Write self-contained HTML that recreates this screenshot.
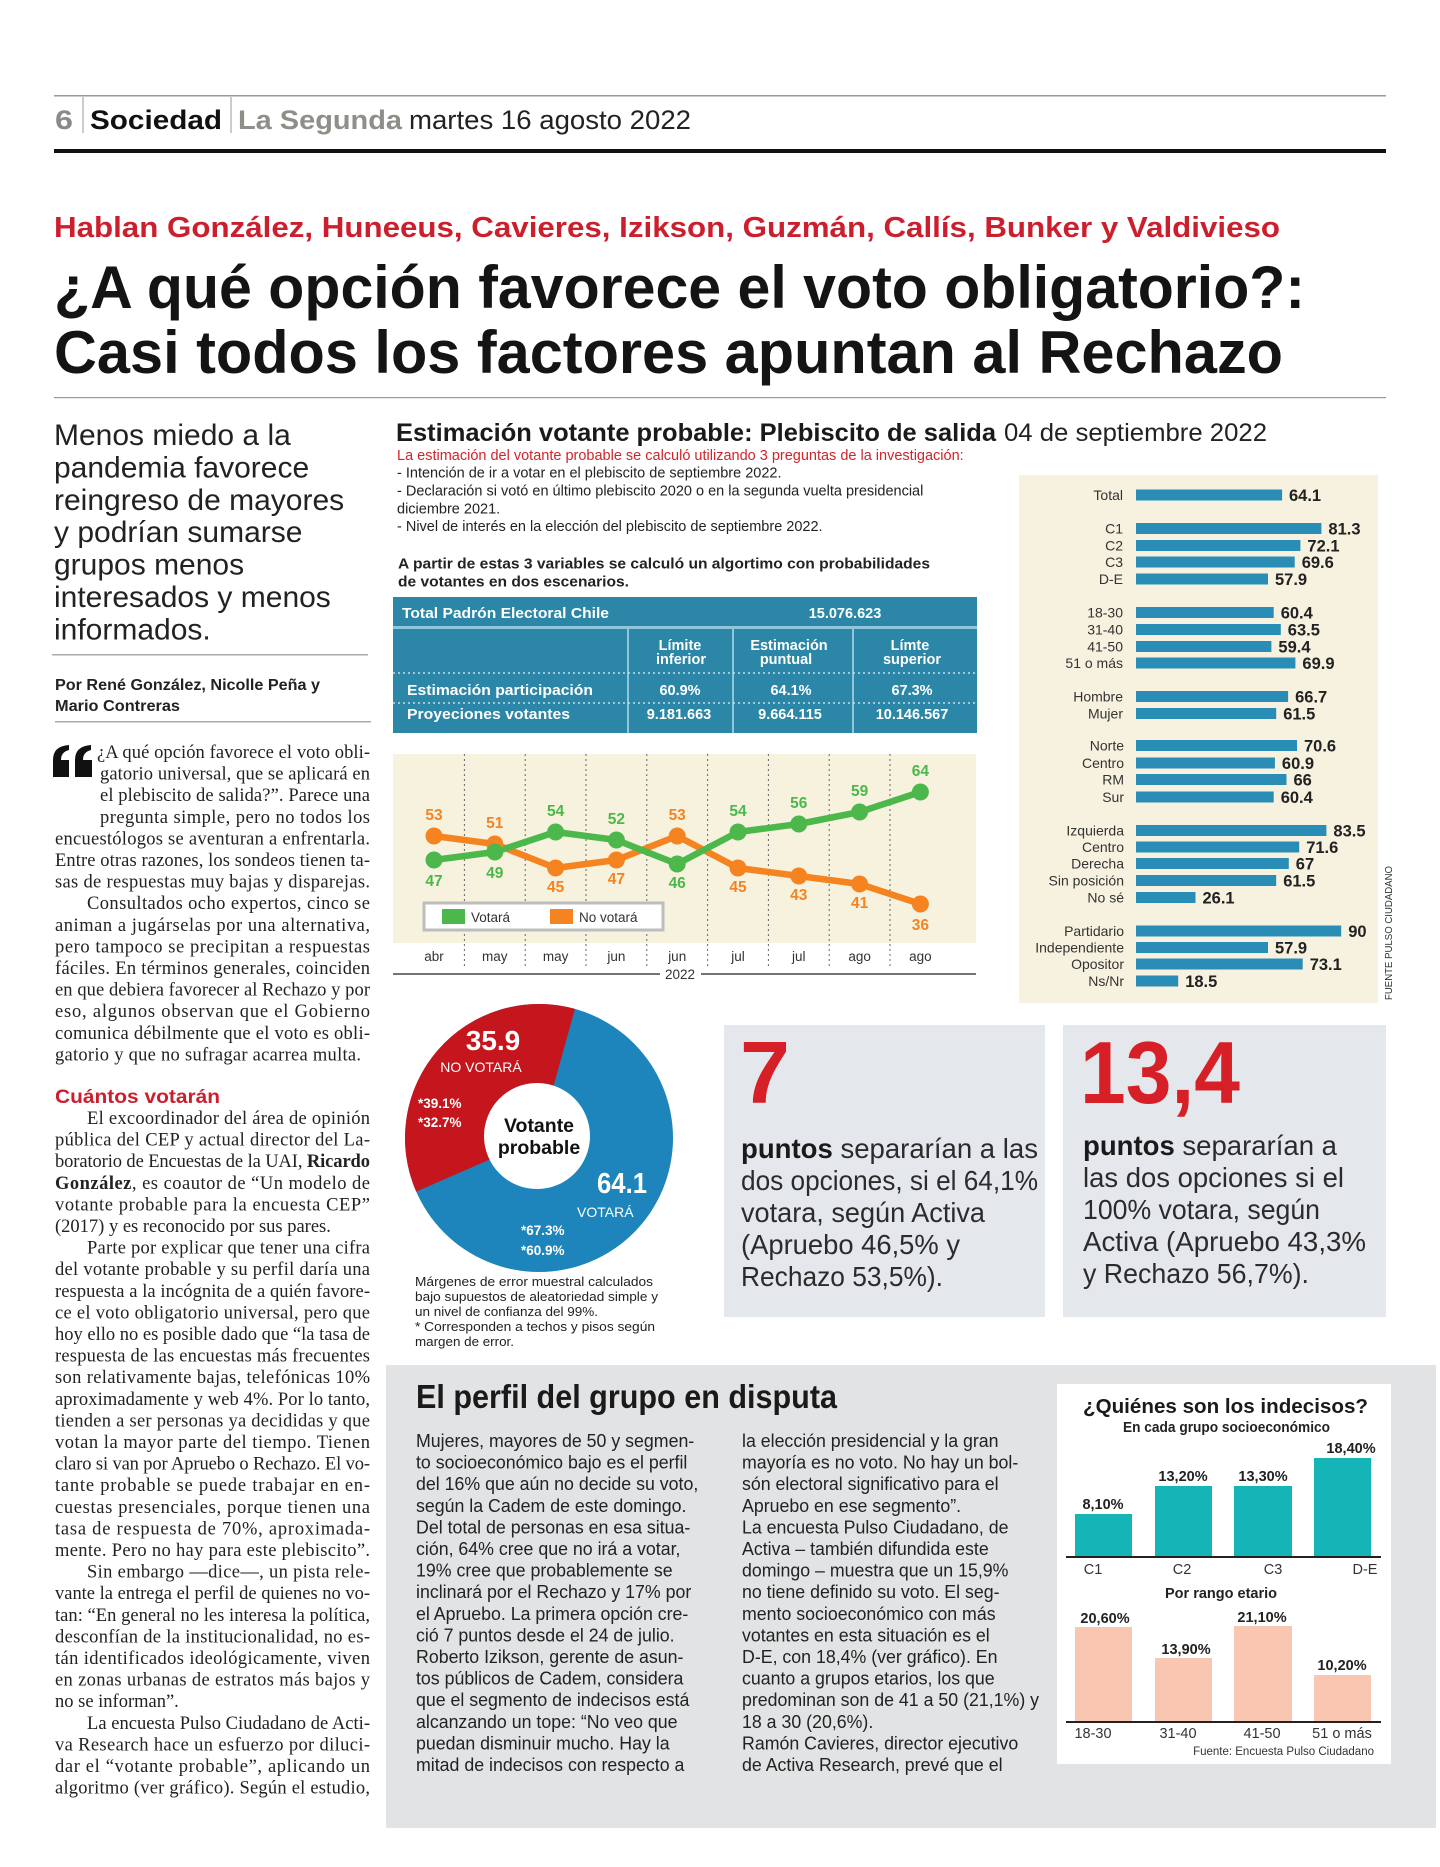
<!DOCTYPE html>
<html><head><meta charset="utf-8"><style>
html,body{margin:0;padding:0;background:#fff}
svg{display:block}
.s{font-family:"Liberation Sans",sans-serif}
.r{font-family:"Liberation Serif",serif}
.b{font-weight:bold}
.bt{font-family:"Liberation Serif",serif;font-size:18.5px;fill:#222}
.bx{font-family:"Liberation Sans",sans-serif;font-size:28px;fill:#2b2b2b}
.bo{font-family:"Liberation Sans",sans-serif;font-size:18.5px;fill:#222}
.lab{font-family:"Liberation Sans",sans-serif;font-size:14px;fill:#333;text-anchor:end}
.val{font-family:"Liberation Sans",sans-serif;font-size:16.5px;font-weight:bold;fill:#222}
.gl{font-family:"Liberation Sans",sans-serif;font-size:15.5px;font-weight:bold;fill:#4cb74a;text-anchor:middle}
.ol{font-family:"Liberation Sans",sans-serif;font-size:15.5px;font-weight:bold;fill:#f5831f;text-anchor:middle}
.mo{font-family:"Liberation Sans",sans-serif;font-size:13.5px;fill:#333;text-anchor:middle}
.tw{font-family:"Liberation Sans",sans-serif;font-size:14.5px;font-weight:bold;fill:#fff;text-anchor:middle}
.iv{font-family:"Liberation Sans",sans-serif;font-size:14.5px;font-weight:bold;fill:#222;text-anchor:middle}
.ic{font-family:"Liberation Sans",sans-serif;font-size:14.5px;fill:#333;text-anchor:middle}
</style></head><body>
<svg width="1440" height="1867" viewBox="0 0 1440 1867" xmlns="http://www.w3.org/2000/svg">
<rect width="1440" height="1867" fill="#fff"/>

<!-- Header -->
<rect x="54" y="95" width="1332" height="1.5" fill="#9a9a9a"/>
<text class="s b" x="55" y="129" font-size="27" fill="#8a8a8a" textLength="18" lengthAdjust="spacingAndGlyphs">6</text>
<rect x="82.5" y="97" width="1" height="36" fill="#999"/>
<text class="s b" x="90" y="129" font-size="27" fill="#111" textLength="132" lengthAdjust="spacingAndGlyphs">Sociedad</text>
<rect x="230.5" y="97" width="1" height="36" fill="#999"/>
<text class="s b" x="238" y="129" font-size="27" fill="#8d8f88" textLength="164" lengthAdjust="spacingAndGlyphs">La Segunda</text>
<text class="s" x="409" y="129" font-size="27" fill="#222" textLength="282" lengthAdjust="spacingAndGlyphs">martes 16 agosto 2022</text>
<rect x="54" y="149" width="1332" height="4" fill="#111"/>

<!-- Headline -->
<text class="s b" x="54" y="237" font-size="29" fill="#cc1f2d" textLength="1226" lengthAdjust="spacingAndGlyphs">Hablan González, Huneeus, Cavieres, Izikson, Guzmán, Callís, Bunker y Valdivieso</text>
<text class="s b" x="54" y="308" font-size="60" fill="#141414" textLength="1251" lengthAdjust="spacingAndGlyphs">¿A qué opción favorece el voto obligatorio?:</text>
<text class="s b" x="54" y="373" font-size="60" fill="#141414" textLength="1229" lengthAdjust="spacingAndGlyphs">Casi todos los factores apuntan al Rechazo</text>
<rect x="54" y="397" width="1332" height="1.2" fill="#999"/>

<!-- Deck -->
<g class="s" font-size="30" fill="#222">
<text x="54" y="445">Menos miedo a la</text>
<text x="54" y="477.4">pandemia favorece</text>
<text x="54" y="509.8">reingreso de mayores</text>
<text x="54" y="542.2">y podrían sumarse</text>
<text x="54" y="574.6">grupos menos</text>
<text x="54" y="607">interesados y menos</text>
<text x="54" y="639.4">informados.</text>
</g>
<rect x="52" y="654" width="316" height="1.5" fill="#aaa"/>
<text class="s b" x="55" y="690" font-size="15.5" fill="#222" textLength="265" lengthAdjust="spacingAndGlyphs">Por René González, Nicolle Peña y</text>
<text class="s b" x="55" y="711" font-size="15.5" fill="#222" textLength="125" lengthAdjust="spacingAndGlyphs">Mario Contreras</text>
<rect x="55" y="721" width="316" height="1.5" fill="#aaa"/>

<!-- Quote marks -->
<path d="M53,777 L53,760 Q53,746 69,745 L69,750 Q61,752 61,760 L69,760 L69,777 Z" fill="#111"/>
<path d="M75,777 L75,760 Q75,746 91,745 L91,750 Q83,752 83,760 L92,760 L92,777 Z" fill="#111"/>

<!-- Body block 1 -->
<g class="bt">
<text x="97" y="758" textLength="273" lengthAdjust="spacing">¿A qué opción favorece el voto obli-</text>
<text x="100" y="779.6" textLength="270" lengthAdjust="spacing">gatorio universal, que se aplicará en</text>
<text x="100" y="801.2" textLength="270" lengthAdjust="spacing">el plebiscito de salida?”. Parece una</text>
<text x="100" y="822.8" textLength="270" lengthAdjust="spacing">pregunta simple, pero no todos los</text>
<text x="55" y="844.4" textLength="315" lengthAdjust="spacing">encuestólogos se aventuran a enfrentarla.</text>
<text x="55" y="866" textLength="315" lengthAdjust="spacing">Entre otras razones, los sondeos tienen ta-</text>
<text x="55" y="887.6" textLength="315" lengthAdjust="spacing">sas de respuestas muy bajas y disparejas.</text>
<text x="87" y="909.2" textLength="283" lengthAdjust="spacing">Consultados ocho expertos, cinco se</text>
<text x="55" y="930.8" textLength="315" lengthAdjust="spacing">animan a jugárselas por una alternativa,</text>
<text x="55" y="952.4" textLength="315" lengthAdjust="spacing">pero tampoco se precipitan a respuestas</text>
<text x="55" y="974" textLength="315" lengthAdjust="spacing">fáciles. En términos generales, coinciden</text>
<text x="55" y="995.6" textLength="315" lengthAdjust="spacing">en que debiera favorecer al Rechazo y por</text>
<text x="55" y="1017.2" textLength="315" lengthAdjust="spacing">eso, algunos observan que el Gobierno</text>
<text x="55" y="1038.8" textLength="315" lengthAdjust="spacing">comunica débilmente que el voto es obli-</text>
<text x="55" y="1060.4" textLength="306" lengthAdjust="spacing">gatorio y que no sufragar acarrea multa.</text>
</g>
<text class="s b" x="55" y="1103" font-size="19" fill="#cc1f2d" textLength="165" lengthAdjust="spacingAndGlyphs">Cuántos votarán</text>

<!-- Body block 2 -->
<g class="bt">
<text x="87" y="1124" textLength="283" lengthAdjust="spacing">El excoordinador del área de opinión</text>
<text x="55" y="1145.6" textLength="315" lengthAdjust="spacing">pública del CEP y actual director del La-</text>
<text x="55" y="1167.2" textLength="315" lengthAdjust="spacing">boratorio de Encuestas de la UAI, <tspan font-weight="bold">Ricardo</tspan></text>
<text x="55" y="1188.8" textLength="315" lengthAdjust="spacing"><tspan font-weight="bold">González</tspan>, es coautor de “Un modelo de</text>
<text x="55" y="1210.4" textLength="315" lengthAdjust="spacing">votante probable para la encuesta CEP”</text>
<text x="55" y="1232">(2017) y es reconocido por sus pares.</text>
<text x="87" y="1253.6" textLength="283" lengthAdjust="spacing">Parte por explicar que tener una cifra</text>
<text x="55" y="1275.2" textLength="315" lengthAdjust="spacing">del votante probable y su perfil daría una</text>
<text x="55" y="1296.8" textLength="315" lengthAdjust="spacing">respuesta a la incógnita de a quién favore-</text>
<text x="55" y="1318.4" textLength="315" lengthAdjust="spacing">ce el voto obligatorio universal, pero que</text>
<text x="55" y="1340" textLength="315" lengthAdjust="spacing">hoy ello no es posible dado que “la tasa de</text>
<text x="55" y="1361.6" textLength="315" lengthAdjust="spacing">respuesta de las encuestas más frecuentes</text>
<text x="55" y="1383.2" textLength="315" lengthAdjust="spacing">son relativamente bajas, telefónicas 10%</text>
<text x="55" y="1404.8" textLength="315" lengthAdjust="spacing">aproximadamente y web 4%. Por lo tanto,</text>
<text x="55" y="1426.4" textLength="315" lengthAdjust="spacing">tienden a ser personas ya decididas y que</text>
<text x="55" y="1448" textLength="315" lengthAdjust="spacing">votan la mayor parte del tiempo. Tienen</text>
<text x="55" y="1469.6" textLength="315" lengthAdjust="spacing">claro si van por Apruebo o Rechazo. El vo-</text>
<text x="55" y="1491.2" textLength="315" lengthAdjust="spacing">tante probable se puede trabajar en en-</text>
<text x="55" y="1512.8" textLength="315" lengthAdjust="spacing">cuestas presenciales, porque tienen una</text>
<text x="55" y="1534.4" textLength="315" lengthAdjust="spacing">tasa de respuesta de 70%, aproximada-</text>
<text x="55" y="1556" textLength="315" lengthAdjust="spacing">mente. Pero no hay para este plebiscito”.</text>
<text x="87" y="1577.6" textLength="283" lengthAdjust="spacing">Sin embargo —dice—, un pista rele-</text>
<text x="55" y="1599.2" textLength="315" lengthAdjust="spacing">vante la entrega el perfil de quienes no vo-</text>
<text x="55" y="1620.8" textLength="315" lengthAdjust="spacing">tan: “En general no les interesa la política,</text>
<text x="55" y="1642.4" textLength="315" lengthAdjust="spacing">desconfían de la institucionalidad, no es-</text>
<text x="55" y="1664" textLength="315" lengthAdjust="spacing">tán identificados ideológicamente, viven</text>
<text x="55" y="1685.6" textLength="315" lengthAdjust="spacing">en zonas urbanas de estratos más bajos y</text>
<text x="55" y="1707.2">no se informan”.</text>
<text x="87" y="1728.8" textLength="283" lengthAdjust="spacing">La encuesta Pulso Ciudadano de Acti-</text>
<text x="55" y="1750.4" textLength="315" lengthAdjust="spacing">va Research hace un esfuerzo por diluci-</text>
<text x="55" y="1772" textLength="315" lengthAdjust="spacing">dar el “votante probable”, aplicando un</text>
<text x="55" y="1793.6" textLength="315" lengthAdjust="spacing">algoritmo (ver gráfico). Según el estudio,</text>
</g>

<!-- Center title & notes -->
<text class="s b" x="396" y="441" font-size="25" fill="#1a1a1a" textLength="600" lengthAdjust="spacingAndGlyphs">Estimación votante probable: Plebiscito de salida</text>
<text class="s" x="1004" y="441" font-size="25" fill="#222" textLength="263" lengthAdjust="spacingAndGlyphs">04 de septiembre 2022</text>
<g class="s" font-size="14.5" fill="#222">
<text x="397" y="460" fill="#d2232a">La estimación del votante probable se calculó utilizando 3 preguntas de la investigación:</text>
<text x="397" y="477.5">- Intención de ir a votar en el plebiscito de septiembre 2022.</text>
<text x="397" y="495.5">- Declaración si votó en último plebiscito 2020 o en la segunda vuelta presidencial</text>
<text x="397" y="513.5">diciembre 2021.</text>
<text x="397" y="531">- Nivel de interés en la elección del plebiscito de septiembre 2022.</text>
<text x="398" y="568.5" font-weight="bold" textLength="532" lengthAdjust="spacingAndGlyphs">A partir de estas 3 variables se calculó un algortimo con probabilidades</text>
<text x="398" y="586.5" font-weight="bold" textLength="231" lengthAdjust="spacingAndGlyphs">de votantes en dos escenarios.</text>
</g>

<!-- Table -->
<rect x="393" y="597" width="584" height="136" fill="#2b86a7"/>
<rect x="393" y="626" width="584" height="3" fill="#8fc6db"/>
<rect x="627" y="629" width="2" height="104" fill="#8fc6db"/>
<rect x="732" y="629" width="2" height="104" fill="#8fc6db"/>
<rect x="852" y="629" width="2" height="104" fill="#8fc6db"/>
<line x1="393" y1="673" x2="977" y2="673" stroke="#bfe0ec" stroke-width="1.5" stroke-dasharray="2,3"/>
<line x1="393" y1="703" x2="977" y2="703" stroke="#bfe0ec" stroke-width="1.5" stroke-dasharray="2,3"/>
<text class="s b" x="402" y="618" font-size="15" fill="#fff" textLength="207" lengthAdjust="spacingAndGlyphs">Total Padrón Electoral Chile</text>
<text class="tw" x="845" y="618" font-size="15">15.076.623</text>
<text class="tw" x="680" y="650">Límite</text>
<text class="tw" x="681" y="664">inferior</text>
<text class="tw" x="789" y="650">Estimación</text>
<text class="tw" x="786" y="664">puntual</text>
<text class="tw" x="910" y="650">Límte</text>
<text class="tw" x="912" y="664">superior</text>
<text class="s b" x="407" y="695" font-size="15" fill="#fff" textLength="186" lengthAdjust="spacingAndGlyphs">Estimación participación</text>
<text class="s b" x="407" y="719" font-size="15" fill="#fff" textLength="163" lengthAdjust="spacingAndGlyphs">Proyeciones votantes</text>
<text class="tw" x="680" y="695" font-size="15">60.9%</text>
<text class="tw" x="791" y="695" font-size="15">64.1%</text>
<text class="tw" x="912" y="695" font-size="15">67.3%</text>
<text class="tw" x="679" y="719" font-size="15">9.181.663</text>
<text class="tw" x="790" y="719" font-size="15">9.664.115</text>
<text class="tw" x="912" y="719" font-size="15">10.146.567</text>

<!-- Line chart -->
<rect x="393" y="754" width="583" height="189" fill="#f6f2de"/>
<g stroke="#666" stroke-width="1" stroke-dasharray="2,3">
<line x1="464.4" y1="754" x2="464.4" y2="966"/>
<line x1="525.2" y1="754" x2="525.2" y2="966"/>
<line x1="586" y1="754" x2="586" y2="966"/>
<line x1="646.8" y1="754" x2="646.8" y2="966"/>
<line x1="707.6" y1="754" x2="707.6" y2="966"/>
<line x1="768.4" y1="754" x2="768.4" y2="966"/>
<line x1="829.2" y1="754" x2="829.2" y2="966"/>
<line x1="890" y1="754" x2="890" y2="966"/>
</g>
<polyline points="434,836 494.8,844 555.6,868 616.4,860 677.2,836 738,868 798.8,876 859.6,884 920.4,904" fill="none" stroke="#f5831f" stroke-width="6.5" stroke-linejoin="round"/>
<polyline points="434,860 494.8,852 555.6,832 616.4,840 677.2,864 738,832 798.8,824 859.6,812 920.4,792" fill="none" stroke="#4cb74a" stroke-width="6.5" stroke-linejoin="round"/>
<g fill="#f5831f">
<circle cx="434" cy="836" r="8.5"/><circle cx="494.8" cy="844" r="8.5"/><circle cx="555.6" cy="868" r="8.5"/><circle cx="616.4" cy="860" r="8.5"/><circle cx="677.2" cy="836" r="8.5"/><circle cx="738" cy="868" r="8.5"/><circle cx="798.8" cy="876" r="8.5"/><circle cx="859.6" cy="884" r="8.5"/><circle cx="920.4" cy="904" r="8.5"/>
</g>
<g fill="#4cb74a">
<circle cx="434" cy="860" r="8.5"/><circle cx="494.8" cy="852" r="8.5"/><circle cx="555.6" cy="832" r="8.5"/><circle cx="616.4" cy="840" r="8.5"/><circle cx="677.2" cy="864" r="8.5"/><circle cx="738" cy="832" r="8.5"/><circle cx="798.8" cy="824" r="8.5"/><circle cx="859.6" cy="812" r="8.5"/><circle cx="920.4" cy="792" r="8.5"/>
</g>
<text class="ol" x="434" y="820">53</text>
<text class="ol" x="494.8" y="828">51</text>
<text class="ol" x="555.6" y="892">45</text>
<text class="ol" x="616.4" y="884">47</text>
<text class="ol" x="677.2" y="820">53</text>
<text class="ol" x="738" y="892">45</text>
<text class="ol" x="798.8" y="900">43</text>
<text class="ol" x="859.6" y="908">41</text>
<text class="ol" x="920.4" y="930">36</text>
<text class="gl" x="434" y="886">47</text>
<text class="gl" x="494.8" y="878">49</text>
<text class="gl" x="555.6" y="816">54</text>
<text class="gl" x="616.4" y="824">52</text>
<text class="gl" x="677.2" y="888">46</text>
<text class="gl" x="738" y="816">54</text>
<text class="gl" x="798.8" y="808">56</text>
<text class="gl" x="859.6" y="796">59</text>
<text class="gl" x="920.4" y="776">64</text>
<rect x="424" y="903" width="239" height="27" fill="#fff" stroke="#bdbdbd" stroke-width="3"/>
<rect x="442" y="909" width="23" height="15" fill="#4cb74a"/>
<text class="s" x="471" y="922" font-size="13.5" fill="#333">Votará</text>
<rect x="550" y="909" width="23" height="15" fill="#f5831f"/>
<text class="s" x="579" y="922" font-size="13.5" fill="#333">No votará</text>
<text class="mo" x="434" y="961">abr</text>
<text class="mo" x="494.8" y="961">may</text>
<text class="mo" x="555.6" y="961">may</text>
<text class="mo" x="616.4" y="961">jun</text>
<text class="mo" x="677.2" y="961">jun</text>
<text class="mo" x="738" y="961">jul</text>
<text class="mo" x="798.8" y="961">jul</text>
<text class="mo" x="859.6" y="961">ago</text>
<text class="mo" x="920.4" y="961">ago</text>
<line x1="393" y1="974" x2="660" y2="974" stroke="#222" stroke-width="1.2"/>
<line x1="701" y1="974" x2="976" y2="974" stroke="#222" stroke-width="1.2"/>
<text class="mo" x="680" y="979" font-size="14">2022</text>

<!-- Right bar panel -->
<rect x="1019" y="475" width="359" height="528" fill="#f6f2df"/>
<g fill="#2a8db5">
<rect x="1136" y="489.5" width="146.1" height="11"/>
<rect x="1136" y="523" width="185.4" height="11"/>
<rect x="1136" y="540" width="164.4" height="11"/>
<rect x="1136" y="556.5" width="158.7" height="11"/>
<rect x="1136" y="573.5" width="132" height="11"/>
<rect x="1136" y="607" width="137.7" height="11"/>
<rect x="1136" y="624" width="144.8" height="11"/>
<rect x="1136" y="641" width="135.4" height="11"/>
<rect x="1136" y="657.5" width="159.4" height="11"/>
<rect x="1136" y="691" width="152.1" height="11"/>
<rect x="1136" y="708" width="140.2" height="11"/>
<rect x="1136" y="740" width="161" height="11"/>
<rect x="1136" y="757.5" width="138.9" height="11"/>
<rect x="1136" y="774" width="150.5" height="11"/>
<rect x="1136" y="791.5" width="137.7" height="11"/>
<rect x="1136" y="825" width="190.4" height="11"/>
<rect x="1136" y="841.5" width="163.2" height="11"/>
<rect x="1136" y="858" width="152.8" height="11"/>
<rect x="1136" y="875" width="140.2" height="11"/>
<rect x="1136" y="892" width="59.5" height="11"/>
<rect x="1136" y="925.5" width="205.2" height="11"/>
<rect x="1136" y="942" width="132" height="11"/>
<rect x="1136" y="958.5" width="166.7" height="11"/>
<rect x="1136" y="975.5" width="42.2" height="11"/>
</g>
<text class="lab" x="1123" y="500">Total</text>
<text class="lab" x="1123" y="533.5">C1</text>
<text class="lab" x="1123" y="550.5">C2</text>
<text class="lab" x="1123" y="567">C3</text>
<text class="lab" x="1123" y="584">D-E</text>
<text class="lab" x="1123" y="617.5">18-30</text>
<text class="lab" x="1123" y="634.5">31-40</text>
<text class="lab" x="1123" y="651.5">41-50</text>
<text class="lab" x="1123" y="668">51 o más</text>
<text class="lab" x="1123" y="701.5">Hombre</text>
<text class="lab" x="1123" y="718.5">Mujer</text>
<text class="lab" x="1124" y="750.5">Norte</text>
<text class="lab" x="1124" y="768">Centro</text>
<text class="lab" x="1124" y="784.5">RM</text>
<text class="lab" x="1124" y="802">Sur</text>
<text class="lab" x="1124" y="835.5">Izquierda</text>
<text class="lab" x="1124" y="852">Centro</text>
<text class="lab" x="1124" y="868.5">Derecha</text>
<text class="lab" x="1124" y="885.5">Sin posición</text>
<text class="lab" x="1124" y="902.5">No sé</text>
<text class="lab" x="1124" y="936">Partidario</text>
<text class="lab" x="1124" y="952.5">Independiente</text>
<text class="lab" x="1124" y="969">Opositor</text>
<text class="lab" x="1124" y="986">Ns/Nr</text>
<text class="val" x="1289" y="501">64.1</text>
<text class="val" x="1328.4" y="534.5">81.3</text>
<text class="val" x="1307.4" y="551.5">72.1</text>
<text class="val" x="1301.7" y="568">69.6</text>
<text class="val" x="1275" y="585">57.9</text>
<text class="val" x="1280.7" y="618.5">60.4</text>
<text class="val" x="1287.8" y="635.5">63.5</text>
<text class="val" x="1278.4" y="652.5">59.4</text>
<text class="val" x="1302.4" y="669">69.9</text>
<text class="val" x="1295.1" y="702.5">66.7</text>
<text class="val" x="1283.2" y="719.5">61.5</text>
<text class="val" x="1304" y="751.5">70.6</text>
<text class="val" x="1281.9" y="769">60.9</text>
<text class="val" x="1293.5" y="785.5">66</text>
<text class="val" x="1280.7" y="803">60.4</text>
<text class="val" x="1333.4" y="836.5">83.5</text>
<text class="val" x="1306.2" y="853">71.6</text>
<text class="val" x="1295.8" y="869.5">67</text>
<text class="val" x="1283.2" y="886.5">61.5</text>
<text class="val" x="1202.5" y="903.5">26.1</text>
<text class="val" x="1348.2" y="937">90</text>
<text class="val" x="1275" y="953.5">57.9</text>
<text class="val" x="1309.7" y="970">73.1</text>
<text class="val" x="1185.2" y="987">18.5</text>
<text class="s" x="0" y="0" font-size="10.5" fill="#333" transform="translate(1392 1000) rotate(-90)" textLength="134" lengthAdjust="spacingAndGlyphs">FUENTE PULSO CIUDADANO</text>

<!-- Donut -->
<circle cx="539" cy="1138" r="134" fill="#1d85bb"/>
<path d="M539,1138 L416.2,1191.6 A134,134 0 0 1 575,1008.9 Z" fill="#c4161c"/>
<circle cx="537" cy="1136" r="53" fill="#fff"/>
<text class="s b" x="493" y="1050" font-size="28" fill="#fff" text-anchor="middle">35.9</text>
<text class="s" x="481" y="1072" font-size="14" fill="#fff" text-anchor="middle">NO VOTARÁ</text>
<text class="s b" x="418" y="1108" font-size="13.5" fill="#fff">*39.1%</text>
<text class="s b" x="418" y="1127" font-size="13.5" fill="#fff">*32.7%</text>
<text class="s b" x="539" y="1132" font-size="19.5" fill="#111" text-anchor="middle">Votante</text>
<text class="s b" x="539" y="1154" font-size="19.5" fill="#111" text-anchor="middle">probable</text>
<text class="s b" x="597" y="1193" font-size="29" fill="#fff" textLength="50" lengthAdjust="spacingAndGlyphs">64.1</text>
<text class="s" x="577" y="1217" font-size="14" fill="#fff">VOTARÁ</text>
<text class="s b" x="521" y="1235" font-size="13.5" fill="#fff">*67.3%</text>
<text class="s b" x="521" y="1255" font-size="13.5" fill="#fff">*60.9%</text>
<g class="s" font-size="12.5" fill="#222">
<text x="415" y="1286" textLength="238" lengthAdjust="spacingAndGlyphs">Márgenes de error muestral calculados</text>
<text x="415" y="1301" textLength="243" lengthAdjust="spacingAndGlyphs">bajo supuestos de aleatoriedad simple y</text>
<text x="415" y="1316" textLength="183" lengthAdjust="spacingAndGlyphs">un nivel de confianza del 99%.</text>
<text x="415" y="1331" textLength="240" lengthAdjust="spacingAndGlyphs">* Corresponden a techos y pisos según</text>
<text x="415" y="1346" textLength="99" lengthAdjust="spacingAndGlyphs">margen de error.</text>
</g>

<!-- Number boxes -->
<rect x="724" y="1025" width="321" height="292" fill="#e4e8ec"/>
<rect x="1063" y="1025" width="323" height="292" fill="#e4e8ec"/>
<text class="s b" x="740" y="1103" font-size="88" fill="#d71f27" textLength="50" lengthAdjust="spacingAndGlyphs">7</text>
<text class="s b" x="1080" y="1103" font-size="88" fill="#d71f27" textLength="160" lengthAdjust="spacingAndGlyphs">13,4</text>
<text class="bx" x="741" y="1158" textLength="297" lengthAdjust="spacingAndGlyphs"><tspan font-weight="bold" fill="#1a1a1a">puntos</tspan> separarían a las</text>
<text class="bx" x="741" y="1190" textLength="297" lengthAdjust="spacingAndGlyphs">dos opciones, si el 64,1%</text>
<text class="bx" x="741" y="1222" textLength="244" lengthAdjust="spacingAndGlyphs">votara, según Activa</text>
<text class="bx" x="741" y="1254" textLength="219" lengthAdjust="spacingAndGlyphs">(Apruebo 46,5% y</text>
<text class="bx" x="741" y="1286" textLength="202" lengthAdjust="spacingAndGlyphs">Rechazo 53,5%).</text>
<text class="bx" x="1083" y="1155" textLength="254" lengthAdjust="spacingAndGlyphs"><tspan font-weight="bold" fill="#1a1a1a">puntos</tspan> separarían a</text>
<text class="bx" x="1083" y="1187" textLength="261" lengthAdjust="spacingAndGlyphs">las dos opciones si el</text>
<text class="bx" x="1083" y="1219" textLength="237" lengthAdjust="spacingAndGlyphs">100% votara, según</text>
<text class="bx" x="1083" y="1251" textLength="283" lengthAdjust="spacingAndGlyphs">Activa (Apruebo 43,3%</text>
<text class="bx" x="1083" y="1283" textLength="226" lengthAdjust="spacingAndGlyphs">y Rechazo 56,7%).</text>

<!-- Bottom gray section -->
<rect x="386" y="1365" width="1050" height="463" fill="#e2e3e4"/>
<text class="s b" x="416" y="1408" font-size="33" fill="#1a1a1a" textLength="421" lengthAdjust="spacingAndGlyphs">El perfil del grupo en disputa</text>
<g class="bo" transform="translate(416 0) scale(0.96 1)">
<text x="0" y="1447">Mujeres, mayores de 50 y segmen-</text>
<text x="0" y="1468.6">to socioeconómico bajo es el perfil</text>
<text x="0" y="1490.2">del 16% que aún no decide su voto,</text>
<text x="0" y="1511.8">según la Cadem de este domingo.</text>
<text x="0" y="1533.4">Del total de personas en esa situa-</text>
<text x="0" y="1555">ción, 64% cree que no irá a votar,</text>
<text x="0" y="1576.6">19% cree que probablemente se</text>
<text x="0" y="1598.2">inclinará por el Rechazo y 17% por</text>
<text x="0" y="1619.8">el Apruebo. La primera opción cre-</text>
<text x="0" y="1641.4">ció 7 puntos desde el 24 de julio.</text>
<text x="0" y="1663">Roberto Izikson, gerente de asun-</text>
<text x="0" y="1684.6">tos públicos de Cadem, considera</text>
<text x="0" y="1706.2">que el segmento de indecisos está</text>
<text x="0" y="1727.8">alcanzando un tope: “No veo que</text>
<text x="0" y="1749.4">puedan disminuir mucho. Hay la</text>
<text x="0" y="1771">mitad de indecisos con respecto a</text>
</g>
<g class="bo" transform="translate(742 0) scale(0.96 1)">
<text x="0" y="1447">la elección presidencial y la gran</text>
<text x="0" y="1468.6">mayoría es no voto. No hay un bol-</text>
<text x="0" y="1490.2">són electoral significativo para el</text>
<text x="0" y="1511.8">Apruebo en ese segmento”.</text>
<text x="0" y="1533.4">La encuesta Pulso Ciudadano, de</text>
<text x="0" y="1555">Activa  – también difundida este</text>
<text x="0" y="1576.6">domingo –  muestra que un 15,9%</text>
<text x="0" y="1598.2">no tiene definido su voto. El seg-</text>
<text x="0" y="1619.8">mento socioeconómico con más</text>
<text x="0" y="1641.4">votantes en esta situación es el</text>
<text x="0" y="1663">D-E, con 18,4% (ver gráfico). En</text>
<text x="0" y="1684.6">cuanto a grupos etarios, los que</text>
<text x="0" y="1706.2">predominan son de 41 a 50 (21,1%) y</text>
<text x="0" y="1727.8">18 a 30 (20,6%).</text>
<text x="0" y="1749.4">Ramón Cavieres, director ejecutivo</text>
<text x="0" y="1771">de Activa Research, prevé que el</text>
</g>

<!-- Indecisos panel -->
<rect x="1057" y="1384" width="334" height="380" fill="#fff"/>
<text class="s b" x="1083" y="1413" font-size="20" fill="#1a1a1a" textLength="285" lengthAdjust="spacingAndGlyphs">¿Quiénes son los indecisos?</text>
<text class="s b" x="1123" y="1432" font-size="14.5" fill="#222" textLength="207" lengthAdjust="spacingAndGlyphs">En cada grupo socioeconómico</text>
<g fill="#14b4b7">
<rect x="1075" y="1514" width="57" height="43"/>
<rect x="1155" y="1486" width="57" height="71"/>
<rect x="1234" y="1486" width="58" height="71"/>
<rect x="1314" y="1458" width="57" height="99"/>
</g>
<rect x="1066" y="1556" width="315" height="2" fill="#222"/>
<text class="iv" x="1103" y="1509">8,10%</text>
<text class="iv" x="1183" y="1481">13,20%</text>
<text class="iv" x="1263" y="1481">13,30%</text>
<text class="iv" x="1351" y="1453">18,40%</text>
<text class="ic" x="1093" y="1574">C1</text>
<text class="ic" x="1182" y="1574">C2</text>
<text class="ic" x="1273" y="1574">C3</text>
<text class="ic" x="1365" y="1574">D-E</text>
<text class="iv" x="1221" y="1598">Por rango etario</text>
<g fill="#f8c6b1">
<rect x="1075" y="1627" width="57" height="95"/>
<rect x="1155" y="1658" width="57" height="64"/>
<rect x="1234" y="1626" width="58" height="96"/>
<rect x="1314" y="1675" width="57" height="47"/>
</g>
<rect x="1066" y="1721" width="315" height="2" fill="#222"/>
<text class="iv" x="1105" y="1623">20,60%</text>
<text class="iv" x="1186" y="1654">13,90%</text>
<text class="iv" x="1262" y="1622">21,10%</text>
<text class="iv" x="1342" y="1670">10,20%</text>
<text class="ic" x="1093" y="1738">18-30</text>
<text class="ic" x="1178" y="1738">31-40</text>
<text class="ic" x="1262" y="1738">41-50</text>
<text class="ic" x="1342" y="1738">51 o más</text>
<text class="s" x="1374" y="1755" font-size="11.5" fill="#333" text-anchor="end">Fuente: Encuesta Pulso Ciudadano</text>
</svg>
</body></html>
